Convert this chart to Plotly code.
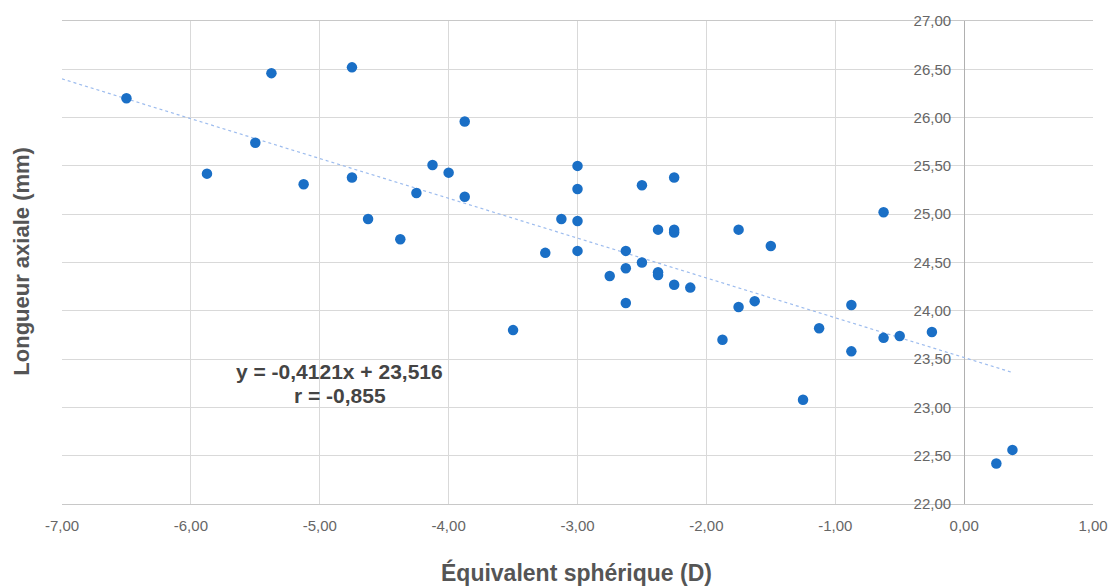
import plotly.graph_objects as go

# Data: spherical equivalent (D) vs axial length (mm)
sph_eq = [-6.5, -5.375, -4.75, -3.875, -5.5, -5.875, -5.125, -4.75, -4.125, -4.0,
          -4.25, -3.875, -4.625, -4.375, -3.25, -3.5, -3.125, -3.0, -3.0, -3.0,
          -3.0, -2.5, -2.25, -2.375, -2.25, -2.25, -1.75, -1.5, -0.625, -2.625,
          -2.75, -2.625, -2.5, -2.375, -2.375, -2.25, -2.125, -2.625, -1.75, -1.625,
          -0.875, -1.875, -1.125, -0.875, -0.625, -0.5, -0.25, -1.25, 0.25, 0.375]
axial_len = [26.20, 26.46, 26.52, 25.96, 25.74, 25.42, 25.31, 25.38, 25.51, 25.43,
             25.22, 25.18, 24.95, 24.74, 24.60, 23.80, 24.95, 25.50, 25.26, 24.93,
             24.62, 25.30, 25.38, 24.84, 24.84, 24.81, 24.84, 24.67, 25.02, 24.62,
             24.36, 24.44, 24.50, 24.40, 24.37, 24.27, 24.24, 24.08, 24.04, 24.10,
             24.06, 23.70, 23.82, 23.58, 23.72, 23.74, 23.78, 23.08, 22.42, 22.56]

slope = -0.4121
intercept = 23.516
r_value = -0.855

x_ticks = [-7, -6, -5, -4, -3, -2, -1, 0, 1]
y_ticks = [22, 22.5, 23, 23.5, 24, 24.5, 25, 25.5, 26, 26.5, 27]

def fr(v):
    return f"{v:.2f}".replace(".", ",")

def fc(v):
    return str(v).replace(".", ",")

x_text = [fr(v) for v in x_ticks]
y_text = [fr(v) for v in y_ticks]

trend_x = [x_ticks[0], max(sph_eq)]
trend_y = [slope * v + intercept for v in trend_x]

fig = go.Figure()
fig.add_trace(go.Scatter(x=trend_x, y=trend_y, mode="lines",
                         line=dict(color="#9dbcee", width=1.2, dash="dot"),
                         hoverinfo="skip", showlegend=False))
fig.add_trace(go.Scatter(x=sph_eq, y=axial_len, mode="markers",
                         marker=dict(color="#1a6fc6", size=10.5),
                         showlegend=False))

FONT = "Liberation Sans, Arial, sans-serif"
EQ_FONT = dict(family=FONT, size=21, color="#444444")

fig.update_layout(
    width=1120, height=588,
    margin=dict(l=62, r=23, t=17, b=84),
    paper_bgcolor="white", plot_bgcolor="white",
    font=dict(family=FONT, size=15, color="#666666"),
    xaxis=dict(range=[-7, 1], tickvals=x_ticks, ticktext=x_text,
               showgrid=True, gridcolor="#d9d9d9", gridwidth=1,
               zeroline=True, zerolinecolor="#b0b0b0", zerolinewidth=1,
               showline=True, linecolor="#c8c8c8", mirror=True,
               ticks="", ticklabelstandoff=8,
               tickfont=dict(size=15, color="#666666")),
    yaxis=dict(range=[22, 27], tickvals=y_ticks, ticktext=y_text,
               showgrid=True, gridcolor="#d9d9d9", gridwidth=1,
               zeroline=False, anchor="free", position=7/8, side="left",
               showline=False, ticks="", ticklabelstandoff=13,
               tickfont=dict(size=15, color="#666666")),
    annotations=[
        dict(text=f"<b>y = {fc(slope)}x + {fc(intercept)}</b>",
             x=-4.844, y=23.376, xref="x", yref="y", showarrow=False,
             font=EQ_FONT, xanchor="center", yanchor="middle"),
        dict(text=f"<b>r = {fc(r_value)}</b>",
             x=-4.844, y=23.127, xref="x", yref="y", showarrow=False,
             font=EQ_FONT, xanchor="center", yanchor="middle"),
        dict(text="<b>Équivalent sphérique (D)</b>", x=0.4995, y=573,
             xref="paper", yref="paper", showarrow=False, xanchor="center",
             yanchor="middle", font=dict(family=FONT, size=23, color="#555555")),
        dict(text="<b>Longueur axiale (mm)</b>", x=21, y=0.5, textangle=-90,
             xref="paper", yref="paper", showarrow=False, xanchor="center",
             yanchor="middle", font=dict(family=FONT, size=22, color="#555555")),
    ],
)

# convert pixel positions of titles into paper fractions
pw = 1120 - 62 - 23
ph = 588 - 17 - 84
fig.layout.annotations[2].y = (588 - 84 - 573) / ph
fig.layout.annotations[3].x = (21 - 62) / pw
fig.layout.annotations[3].y = (588 - 84 - 259.5) / ph

fig.write_html("out.html")
